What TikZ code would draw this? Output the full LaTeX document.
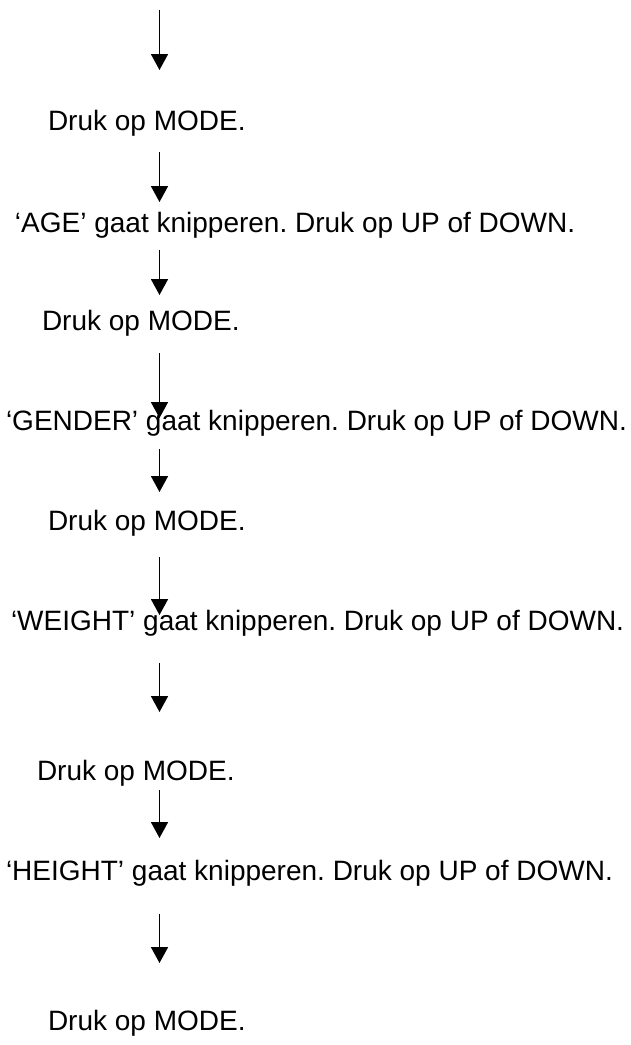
\documentclass[tikz,border=0pt]{standalone}
\usepackage{fontspec}
\setmainfont{Liberation Sans}
\usetikzlibrary{arrows.meta}
\tikzset{
  txt/.style={anchor=base west, inner sep=0pt, outer sep=0pt, font=\fontsize{28}{33}\selectfont\frenchspacing},
  flow/.style={line width=1.8pt, -{Triangle[width=17pt,length=16pt]}}
}
\begin{document}
\begin{tikzpicture}[x=1pt,y=-1pt]
\useasboundingbox (0,0) rectangle (631,1045);
% texts
\node[txt] (t1) at (48,130) {Druk op MODE.};
\node[txt] (t2) at (15,232) {‘AGE’ gaat knipperen. Druk op UP of DOWN.};
\node[txt] (t3) at (42,330) {Druk op MODE.};
\node[txt] (t4) at (6,430) {‘GENDER’ gaat knipperen. Druk op UP of DOWN.};
\node[txt] (t5) at (48,530) {Druk op MODE.};
\node[txt] (t6) at (11,630) {‘WEIGHT’ gaat knipperen. Druk op UP of DOWN.};
\node[txt] (t7) at (37,780) {Druk op MODE.};
\node[txt] (t8) at (6,880) {‘HEIGHT’ gaat knipperen. Druk op UP of DOWN.};
\node[txt] (t9) at (48,1030) {Druk op MODE.};
% arrow ends
\coordinate (a1s) at (159.5,10);  \coordinate (a1e) at (159.5,70);
\coordinate (a2s) at (159.5,152); \coordinate (a2e) at (159.5,202);
\coordinate (a3s) at (159.5,250); \coordinate (a3e) at (159.5,295);
\coordinate (a4s) at (159.5,353); \coordinate (a4e) at (159.5,418);
\coordinate (a5s) at (159.5,449); \coordinate (a5e) at (159.5,492);
\coordinate (a6s) at (159.5,557); \coordinate (a6e) at (159.5,615);
\coordinate (a7s) at (159.5,663); \coordinate (a7e) at (159.5,712);
\coordinate (a8s) at (159.5,790); \coordinate (a8e) at (159.5,838);
\coordinate (a9s) at (159.5,914); \coordinate (a9e) at (159.5,963);
\foreach \i in {1,...,9} { \draw[flow] (a\i s) -- (a\i e); }
\end{tikzpicture}
\end{document}
